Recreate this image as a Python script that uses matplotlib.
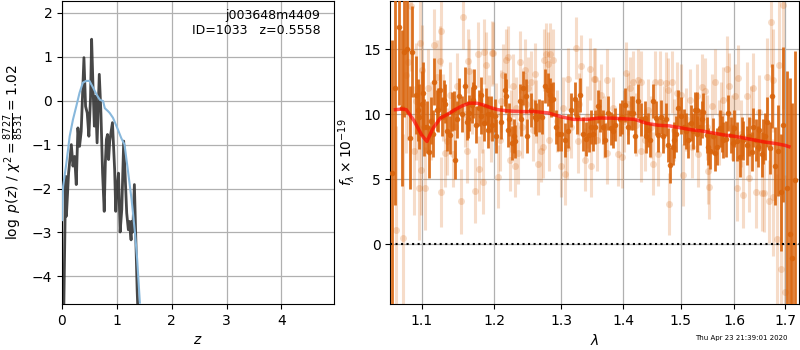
import numpy as np
import matplotlib
matplotlib.use("Agg")
import matplotlib.pyplot as plt
from matplotlib.ticker import FixedLocator, NullLocator, FormatStrFormatter

# ---------------- left panel: p(z) ----------------
pz_z = [0.03, 0.067, 0.08, 0.12, 0.17, 0.20, 0.23, 0.26, 0.29, 0.32, 0.35, 0.40, 0.43,
        0.46, 0.49, 0.52, 0.54, 0.57, 0.59, 0.61, 0.64, 0.68, 0.71, 0.74, 0.77, 0.79,
        0.81, 0.83, 0.85, 0.87, 0.92, 0.96, 0.98, 1.00, 1.03, 1.06, 1.09, 1.125, 1.16,
        1.18, 1.21, 1.23, 1.26, 1.27, 1.29, 1.32, 1.35, 1.37, 1.39]
pz_logp = [-5.0, -1.72, -2.63, -1.65, -1.0, -1.49, -1.27, -1.91, -0.62, -1.04, -0.70, 0.98, -0.13,
           -0.28, -0.81, 0.06, 1.40, 0.14, -0.58, 0.10, -0.96, 0.60, -0.28, -1.65, -2.52, -1.42,
           -0.88, -0.77, -1.34, -0.92, -0.50, -1.57, -2.52, -2.03, -1.65, -2.99, -2.48, -0.92, -1.96,
           -2.56, -2.94, -2.75, -3.17, -2.75, -2.99, -1.91, -3.33, -4.30, -5.0]

prior_z = [0.0, 0.02, 0.08, 0.14, 0.20, 0.26, 0.32, 0.38, 0.44, 0.50, 0.57, 0.63, 0.69,
           0.75, 0.78, 0.84, 0.87, 0.93, 1.02, 1.08, 1.14, 1.20, 1.27, 1.33, 1.37, 1.42]
prior_logp = [-2.72, -1.95, -1.42, -0.81, -0.43, -0.13, 0.18, 0.41, 0.45, 0.45, 0.29, 0.14, 0.02,
              -0.01, -0.17, -0.24, -0.28, -0.39, -0.66, -0.85, -1.0, -1.57, -2.26, -3.0, -3.6, -4.6]

# ---------------- right panel: spectrum ----------------
dark_wave = [1.062, 1.066, 1.070, 1.074, 1.077, 1.081, 1.085, 1.088, 1.092, 1.096, 1.100, 1.103,
             1.107, 1.110, 1.113, 1.117, 1.120, 1.124, 1.127, 1.131, 1.134, 1.138, 1.141, 1.145,
             1.148, 1.151, 1.155, 1.158, 1.161, 1.164, 1.168, 1.171, 1.174, 1.178, 1.181, 1.185,
             1.188, 1.191, 1.1955,
             1.2007, 1.2031, 1.2152, 1.2164, 1.2217, 1.2283, 1.2305, 1.2372, 1.2417, 1.2484, 1.2545,
             1.2593, 1.2660, 1.2747, 1.2797, 1.2822, 1.2873, 1.2925, 1.3003, 1.3107, 1.3161, 1.3214,
             1.3291, 1.3344, 1.3398, 1.3478,
             1.3537, 1.3590, 1.3618, 1.3700, 1.3755, 1.3809, 1.3875, 1.3946, 1.4031, 1.4087, 1.4171,
             1.4255, 1.4312, 1.4369, 1.4397, 1.4454, 1.4511, 1.4568, 1.4597, 1.4684, 1.4742, 1.4783,
             1.4818, 1.4859, 1.4918, 1.4959, 1.5007, 1.5096, 1.5186, 1.5258,
             1.5290, 1.5354, 1.5415, 1.5477, 1.5538, 1.5601, 1.5675, 1.5726, 1.5788, 1.5883, 1.5928,
             1.5991, 1.6042, 1.6107, 1.6171, 1.6236, 1.6288, 1.6366, 1.6418, 1.6484, 1.6530, 1.6596,
             1.6643, 1.6696, 1.6743, 1.6797, 1.6865, 1.6913, 1.6968, 1.7037, 1.7093, 1.7149, 1.7198]
dark_flux = [5.5, 12.0, 16.7, 10.5, 14.8, 15.0, 8.2, 14.8, 11.5, 9.8, 10.8, 9.0,
             9.0, 7.1, 9.5, 12.5, 10.3, 11.9, 9.8, 10.8, 8.7, 8.4, 10.2, 6.5,
             9.6, 11.4, 10.0, 12.2, 9.4, 10.1, 10.7, 12.1, 9.2, 10.5, 11.5, 9.3,
             10.6, 8.8, 10.0,
             9.9, 8.3, 11.9, 11.4, 9.6, 8.3, 7.9, 11.0, 12.0, 8.3, 10.3,
             9.8, 9.9, 12.2, 11.9, 11.5, 11.2, 9.0, 8.5, 8.7, 10.3, 11.2,
             11.5, 8.5, 8.1, 9.0,
             9.0, 10.6, 9.9, 8.0, 10.1, 8.9, 9.2, 9.6, 10.7, 9.0, 10.1,
             11.0, 9.6, 9.7, 8.3, 8.0, 11.0, 9.7, 8.4, 8.3, 9.6, 7.6,
             6.1, 7.5, 8.5, 10.5, 9.9, 8.7, 9.3, 10.3,
             10.3, 9.0, 10.2, 8.4, 7.2, 8.3, 7.5, 8.9, 8.0, 10.1, 8.4,
             8.9, 7.9, 6.7, 8.0, 7.6, 8.3, 9.0, 8.0, 8.8, 6.9, 8.3,
             9.4, 7.4, 11.4, 6.0, 7.2, 4.0, 9.2, 4.3, 0.8, -1.1, 4.9]
dark_err = [10.2, 9.0, 6.0, 6.0, 5.0, 5.0, 4.0, 3.5, 3.0, 2.5, 2.5, 2.2,
            2.0, 2.0, 1.8, 1.8, 1.6, 1.6, 1.5, 1.5, 1.5, 1.5, 1.5, 1.5,
            1.4, 1.4, 1.4, 1.4, 1.4, 1.4, 1.4, 1.4, 1.4, 1.4, 1.4, 1.4,
            1.4, 1.4, 1.4,
            1.3, 1.3, 1.3, 1.3, 1.3, 1.3, 1.3, 1.3, 1.3, 1.3, 1.3,
            1.3, 1.3, 1.3, 1.3, 1.3, 1.3, 1.3, 1.3, 1.3, 1.3, 1.3,
            1.3, 1.3, 1.3, 1.3,
            1.3, 1.3, 1.3, 1.3, 1.3, 1.3, 1.3, 1.3, 1.3, 1.3, 1.3,
            1.3, 1.3, 1.3, 1.3, 1.3, 1.3, 1.3, 1.3, 1.3, 1.3, 1.3,
            1.4, 1.4, 1.4, 1.4, 1.4, 1.4, 1.4, 1.4,
            1.4, 1.4, 1.4, 1.4, 1.4, 1.4, 1.4, 1.4, 1.4, 1.4, 1.4,
            1.4, 1.5, 1.5, 1.5, 1.5, 1.5, 1.5, 1.6, 1.6, 1.7, 1.8,
            1.9, 2.0, 2.5, 3.0, 3.5, 4.5, 6.0, 9.0, 12.0, 12.0, 10.0]

# additional dark points filling the dense band
dark2_wave = [1.0951, 1.1013, 1.1150, 1.1217, 1.1305, 1.1432, 1.1624, 1.1696, 1.1811, 1.1904,
              1.1973, 1.2103, 1.2199, 1.2262, 1.2396, 1.2460, 1.2620, 1.2711, 1.2848, 1.2951,
              1.3055, 1.3248, 1.3439,
              1.3510, 1.3673, 1.3837, 1.3986, 1.4132, 1.4210, 1.4425, 1.4655, 1.4888, 1.5055,
              1.5138, 1.5222,
              1.5305, 1.5384, 1.5508, 1.5637, 1.5757, 1.5841, 1.5966, 1.6139, 1.6334, 1.6451,
              1.6564]
dark2_flux = [10.3, 11.6, 8.5, 10.3, 11.1, 10.3, 9.6, 11.1, 9.9, 10.0,
              9.2, 9.4, 8.8, 7.8, 9.6, 11.4, 9.6, 9.8, 11.1, 8.5,
              8.0, 9.8, 8.4,
              8.5, 9.0, 8.7, 9.8, 10.1, 8.3, 8.8, 9.8, 8.0, 9.0,
              8.0, 8.7,
              8.5, 9.6, 7.5, 7.0, 8.5, 8.1, 7.8, 8.3, 7.1, 7.5,
              7.9]
dark2_err = [2.4, 2.4, 1.8, 1.7, 1.5, 1.5, 1.4, 1.4, 1.4, 1.4,
             1.3, 1.3, 1.3, 1.3, 1.3, 1.3, 1.3, 1.3, 1.3, 1.3,
             1.3, 1.3, 1.3,
             1.3, 1.3, 1.3, 1.3, 1.3, 1.3, 1.3, 1.3, 1.4, 1.4,
             1.4, 1.4,
             1.4, 1.4, 1.4, 1.4, 1.4, 1.4, 1.4, 1.5, 1.5, 1.6,
             1.7]

light_wave = [1.0672, 1.0757, 1.0790, 1.0822, 1.0855, 1.0899, 1.0930, 1.0972, 1.0980, 1.0993, 1.1009,
              1.1039, 1.1083, 1.1120, 1.1170, 1.1208, 1.1239, 1.1252, 1.1261, 1.1290, 1.1314, 1.1341,
              1.1380, 1.1418, 1.1450, 1.1477, 1.1532, 1.1555, 1.1590, 1.1615, 1.1633, 1.1647, 1.1690,
              1.1726, 1.1773, 1.1787, 1.1820, 1.1844, 1.1858, 1.1882, 1.1920, 1.1953, 1.1962,
              1.1983, 1.2020, 1.2054, 1.2078, 1.2100, 1.2127, 1.2165, 1.2199, 1.2224, 1.2250, 1.2272,
              1.2297, 1.2320, 1.2346, 1.2370, 1.2410, 1.2445, 1.2470, 1.2495, 1.2545, 1.2570, 1.2595,
              1.2620, 1.2645, 1.2696, 1.2721, 1.2731, 1.2762, 1.2797, 1.2813, 1.2833, 1.2874, 1.2940,
              1.3003, 1.3030, 1.3055, 1.3092, 1.3107, 1.3160, 1.3227, 1.3265, 1.3290, 1.3318, 1.3371,
              1.3410, 1.3452, 1.3479, 1.3517,
              1.3537, 1.3564, 1.3610, 1.3645, 1.3690, 1.3728, 1.3743, 1.3830, 1.3920, 1.3986, 1.4020,
              1.4048, 1.4080, 1.4115, 1.4171, 1.4220, 1.4255, 1.4300, 1.4312, 1.4369, 1.4420, 1.4470,
              1.4511, 1.4540, 1.4597, 1.4643, 1.4700, 1.4742, 1.4783, 1.4800, 1.4842, 1.4890, 1.4936,
              1.5007, 1.5037, 1.5100, 1.5174, 1.5216,
              1.5293, 1.5323, 1.5384, 1.5446, 1.5480, 1.5508, 1.5526, 1.5570, 1.5632, 1.5700, 1.5750,
              1.5791, 1.5855, 1.5905, 1.5960, 1.6013, 1.6042, 1.6074, 1.6120, 1.6171, 1.6236, 1.6288,
              1.6330, 1.6366, 1.6412, 1.6470, 1.6530, 1.6577, 1.6643, 1.6683, 1.6710, 1.6750, 1.6764,
              1.6845, 1.6886, 1.6913, 1.6954, 1.7002]
light_flux = [1.1, 0.45, 13.0, 14.0, 18.3, 7.2, 11.0, 4.3, 15.5, 5.7, 13.4,
              4.3, 12.0, 9.5, 15.3, 12.9, 14.1, 4.0, 16.4, 10.5, 7.0, 7.9,
              11.5, 6.9, 9.0, 12.2, 3.3, 17.5, 10.0, 7.2, 14.1, 13.3, 11.0,
              4.1, 14.6, 5.8, 9.5, 4.8, 14.8, 13.8, 10.5, 8.8, 14.7,
              14.7, 10.0, 5.2, 8.0, 11.0, 13.0, 14.2, 14.4, 6.5, 9.5, 12.2,
              6.0, 10.5, 7.0, 14.0, 9.0, 13.4, 10.8, 12.0, 12.5, 8.8, 13.1,
              10.2, 6.2, 7.2, 7.5, 14.2, 14.6, 13.9, 8.0, 14.6, 14.2, 9.5,
              6.0, 10.5, 5.4, 7.4, 12.7, 9.0, 15.1, 7.9, 10.8, 13.7, 6.5,
              9.8, 13.5, 6.0, 12.7,
              12.7, 8.0, 10.2, 11.5, 9.0, 7.0, 12.6, 10.5, 6.9, 6.7, 9.5,
              13.2, 10.8, 12.0, 12.5, 9.2, 12.6, 7.2, 12.5, 8.0, 10.3, 9.0,
              6.2, 12.5, 6.9, 12.5, 9.8, 12.4, 11.9, 3.1, 12.5, 8.8, 11.6,
              11.5, 5.3, 9.6, 11.1, 7.5,
              11.4, 6.9, 12.1, 11.8, 9.0, 5.6, 4.4, 10.6, 12.5, 8.6, 10.0,
              11.1, 13.5, 12.2, 9.0, 11.4, 4.3, 12.8, 8.5, 3.8, 11.4, 5.1,
              9.5, 12.0, 4.0, 10.2, 3.9, 3.9, 12.9, 3.3, 17.1, 12.6, 3.6,
              0.4, 13.8, -1.9, 18.4, -3.7]
light_err = [8.0, 8.0, 6.0, 6.0, 5.0, 5.0, 4.5, 4.0, 4.0, 3.5, 3.5,
             3.2, 3.0, 3.0, 2.8, 2.8, 2.7, 2.7, 2.7, 2.6, 2.6, 2.6,
             2.5, 2.5, 2.5, 2.5, 2.5, 2.5, 2.5, 2.5, 2.5, 2.5, 2.5,
             2.5, 2.5, 2.5, 2.5, 2.5, 2.5, 2.5, 2.5, 2.5, 2.5,
             2.4, 2.4, 2.4, 2.4, 2.4, 2.4, 2.4, 2.4, 2.4, 2.4, 2.4,
             2.4, 2.4, 2.4, 2.4, 2.4, 2.4, 2.4, 2.4, 2.4, 2.4, 2.4,
             2.4, 2.4, 2.4, 2.4, 2.4, 2.4, 2.4, 2.4, 2.4, 2.4, 2.4,
             2.4, 2.4, 2.4, 2.4, 2.4, 2.4, 2.4, 2.4, 2.4, 2.4, 2.4,
             2.4, 2.4, 2.4, 2.4,
             2.4, 2.4, 2.4, 2.4, 2.4, 2.4, 2.4, 2.4, 2.4, 2.4, 2.4,
             2.4, 2.4, 2.4, 2.4, 2.4, 2.4, 2.4, 2.4, 2.4, 2.4, 2.4,
             2.4, 2.4, 2.4, 2.4, 2.4, 2.4, 2.4, 2.4, 2.4, 2.4, 2.4,
             2.4, 2.4, 2.4, 2.4, 2.4,
             2.5, 2.5, 2.5, 2.5, 2.5, 2.5, 2.5, 2.5, 2.5, 2.5, 2.5,
             2.5, 2.5, 2.5, 2.5, 2.5, 2.5, 2.5, 2.6, 2.6, 2.6, 2.6,
             2.7, 2.7, 2.8, 2.8, 2.9, 3.0, 3.0, 3.2, 3.5, 4.0, 4.5,
             5.0, 6.0, 7.0, 8.0, 9.0]

model_wave = [1.066, 1.075, 1.080, 1.090, 1.100, 1.107, 1.115, 1.125, 1.135, 1.145, 1.155, 1.165,
              1.175, 1.185, 1.195, 1.205, 1.22, 1.24, 1.26, 1.28, 1.30, 1.32, 1.34, 1.36, 1.38,
              1.40, 1.42, 1.44, 1.46, 1.48, 1.50, 1.52, 1.54, 1.56, 1.58, 1.60, 1.62, 1.64,
              1.66, 1.68, 1.70, 1.708]
model_flux = [10.35, 10.4, 10.35, 9.5, 8.4, 7.9, 8.9, 9.7, 10.0, 10.35, 10.65, 10.85,
              10.85, 10.7, 10.5, 10.35, 10.25, 10.2, 10.2, 10.1, 9.8, 9.6, 9.6, 9.7, 9.7,
              9.65, 9.6, 9.3, 9.15, 9.1, 8.95, 8.8, 8.7, 8.55, 8.4, 8.3, 8.15, 8.0,
              7.85, 7.75, 7.6, 7.5]

title_lines = ["j003648m4409", "ID=1033   z=0.5558"]
pz_ylabel = r"$\log\ p(z)$ / $\chi^2=\frac{8727}{8531}=1.02$"
timestamp = "Thu Apr 23 21:39:01 2020"
lam_ticks = [1.1, 1.2, 1.3, 1.4, 1.5, 1.6, 1.7]

plt.rcParams["font.family"] = ["DejaVu Sans"]
fig = plt.figure(figsize=(8, 3.5), dpi=100)

# left axes
ax1 = fig.add_axes([62 / 800, 46 / 350, 272 / 800, 303 / 350])
ax1.plot(prior_z, prior_logp, color="#88b8dc", lw=1.5, zorder=3)
ax1.plot(pz_z, pz_logp, color="#333333", lw=2.0, alpha=0.9, zorder=2)
ax1.set_xlim(0, 4.96)
ax1.set_ylim(-4.63, 2.27)
ax1.set_xticks([0, 1, 2, 3, 4])
ax1.set_yticks([-4, -3, -2, -1, 0, 1, 2])
ax1.grid(True, color="#b0b0b0", lw=0.9)
ax1.set_axisbelow(True)
ax1.set_xlabel(r"$z$", fontsize=10)
ax1.set_ylabel(pz_ylabel, fontsize=10)
ax1.text(0.95, 0.975, "\n".join(title_lines), transform=ax1.transAxes,
         ha="right", va="top", fontsize=9, multialignment="right")
ax1.tick_params(labelsize=10)

# right axes
ax2 = fig.add_axes([390.3 / 800, 46 / 350, 408.7 / 800, 303 / 350])
col = "#d9640c"
ax2.errorbar(light_wave, light_flux, yerr=light_err, fmt="o", color=col, ecolor=col,
             alpha=0.22, ms=5, elinewidth=2.2, capsize=0, mew=0, zorder=2)
ax2.errorbar(dark_wave, dark_flux, yerr=dark_err, fmt="o", color=col, ecolor=col,
             alpha=0.9, ms=4, elinewidth=2.0, capsize=0, mew=0, zorder=3)
ax2.errorbar(dark2_wave, dark2_flux, yerr=dark2_err, fmt="o", color=col, ecolor=col,
             alpha=0.9, ms=4, elinewidth=2.0, capsize=0, mew=0, zorder=3)
ax2.plot(model_wave, model_flux, color="red", lw=2.5, alpha=0.65, zorder=4)
ax2.axhline(0, color="black", ls=":", lw=1.5, zorder=5)
ax2.set_xscale("log")
ax2.set_xlim(1.0595, 1.7287)
ax2.set_ylim(-4.62, 18.72)
ax2.xaxis.set_major_locator(FixedLocator(lam_ticks))
ax2.xaxis.set_major_formatter(FormatStrFormatter("%.1f"))
ax2.xaxis.set_minor_locator(NullLocator())
ax2.set_yticks([0, 5, 10, 15])
ax2.grid(True, color="#b0b0b0", lw=0.9)
ax2.set_axisbelow(True)
ax2.set_xlabel(r"$\lambda$", fontsize=10)
ax2.set_ylabel(r"$f_\lambda\times10^{-19}$", fontsize=10)
ax2.tick_params(labelsize=10)

fig.text(0.984, 0.025, timestamp, ha="right", va="bottom", fontsize=5)

fig.savefig("out.png", dpi=100)
